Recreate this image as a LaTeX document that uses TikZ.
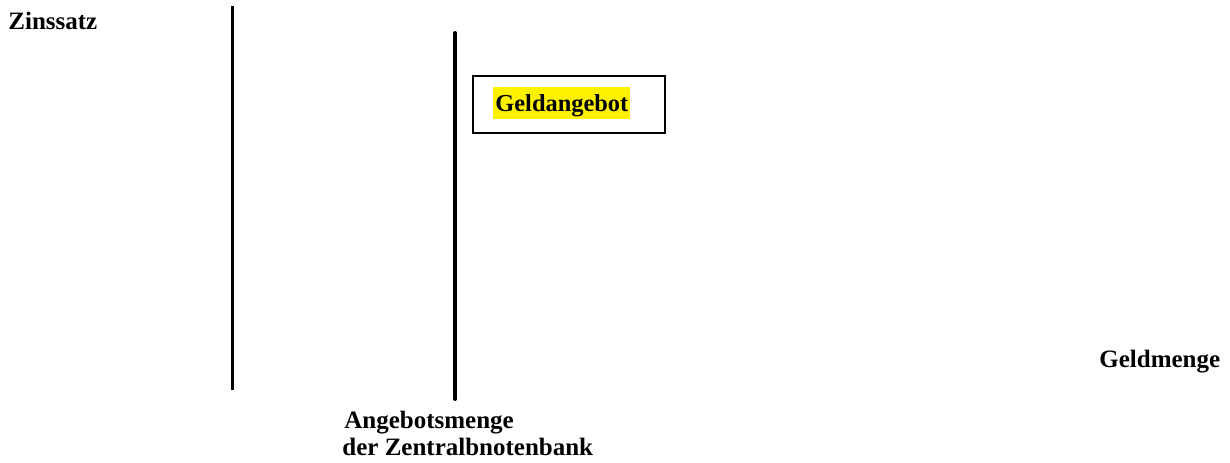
\documentclass[tikz,border=0pt]{standalone}
\usepackage{fontspec}
\setmainfont{Liberation Serif}
\tikzset{
  lbl/.style={font=\bfseries\fontsize{12.5pt}{14pt}\selectfont, inner sep=0pt, anchor=base west},
  axisline/.style={line width=1.5pt},
  supplyline/.style={line width=2pt, line cap=round},
  framebox/.style={draw, line width=1pt, inner sep=0pt},
  hl/.style={fill=yellow, inner xsep=1pt, inner ysep=0pt, text height=12pt, text depth=4pt, anchor=base west, font=\bfseries\fontsize{12.2pt}{14pt}\selectfont}
}
\begin{document}
\begin{tikzpicture}[x=0.5pt,y=-0.5pt]
\useasboundingbox (0,0) rectangle (1230,462);
% axis line
\coordinate (a1) at (232,6);
\coordinate (a2) at (232,390);
\draw[axisline] (a1) -- (a2);
% supply line
\coordinate (s1) at (455,33);
\coordinate (s2) at (455,399);
\draw[supplyline] (s1) -- (s2);
% box
\node[framebox, minimum width=96pt, minimum height=28.5pt, anchor=north west] (box) at (472,75) {};
\node[hl] (geldangebot) at (493,111) {Geldangebot};
% labels
\node[lbl] (zins) at (8,29) {Zinssatz};
\node[lbl] (geldmenge) at (1099,367) {Geldmenge};
\node[lbl] (angebot1) at (344,428) {Angebotsmenge};
\node[lbl] (angebot2) at (342,455) {der Zentralbnotenbank};
\end{tikzpicture}
\end{document}
